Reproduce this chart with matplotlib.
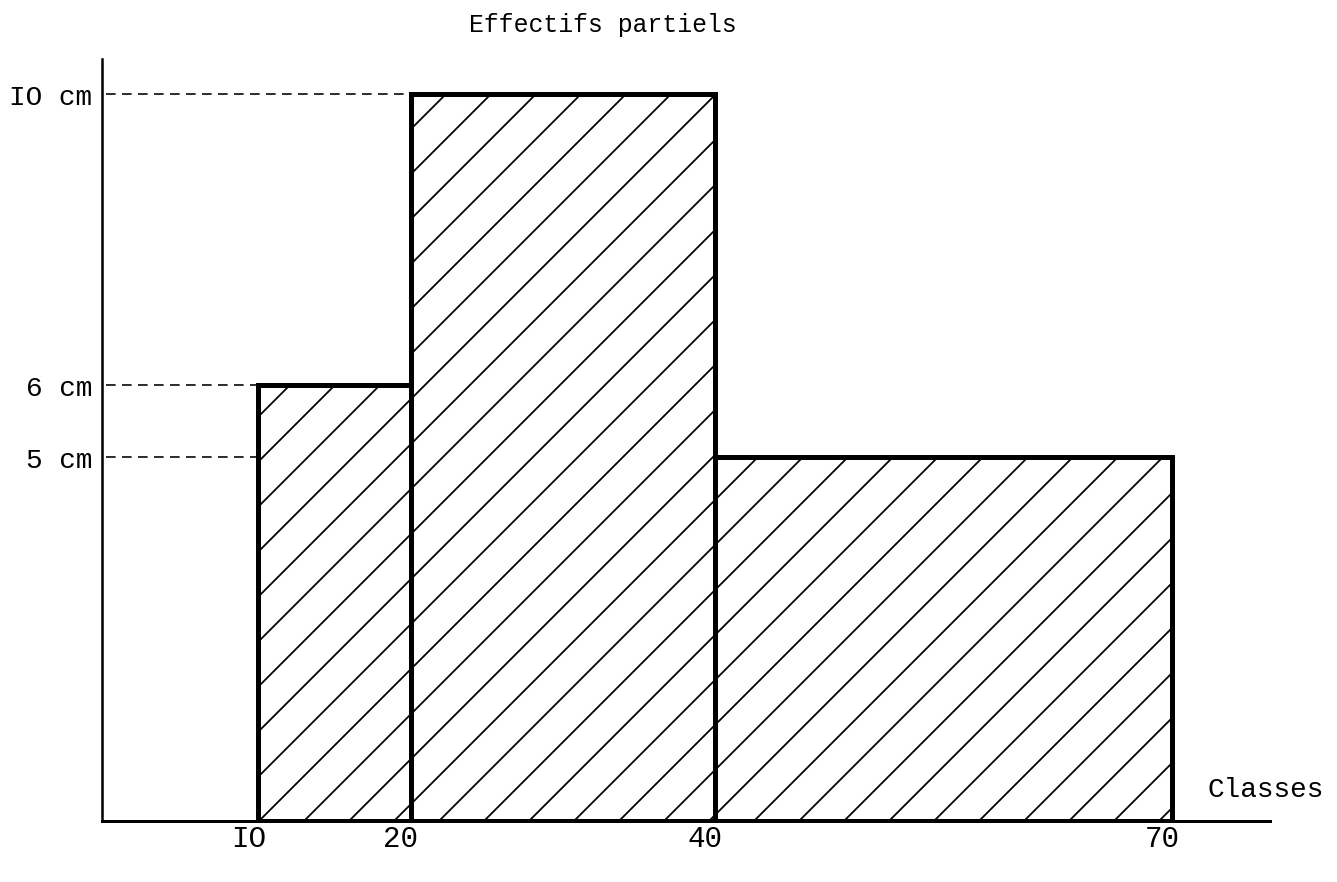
import matplotlib
matplotlib.use("Agg")
import matplotlib.pyplot as plt
import matplotlib.transforms as mtrans

# ---- data ----
class_left = [10, 20, 40]
class_width = [10, 20, 30]
heights = [6, 10, 5]
xtick_vals = [10, 20, 40, 70]
xtick_labels = ["IO", "20", "40", "70"]
ytick_vals = [10, 6, 5]
ytick_labels = ["IO cm", "6 cm", "5 cm"]
title = "Effectifs partiels"
xname = "Classes"

DPI = 270
W, H = 1337, 883
def pt(px):
    return px * 72.0 / DPI

plt.rcParams['font.family'] = ['Liberation Mono', 'DejaVu Sans Mono']
plt.rcParams['hatch.linewidth'] = pt(1.8)

fig = plt.figure(figsize=(W / DPI, H / DPI), dpi=DPI)
fig.patch.set_facecolor('white')
ax = fig.add_axes([102 / W, (H - 822) / H, (1270 - 102) / W, (822 - 60) / H])

ax.bar(class_left, heights, width=class_width, align='edge',
       facecolor='white', edgecolor='black', linewidth=pt(5), hatch='//', zorder=3)

# dashed guide lines from the y axis to each bar
for l, h in zip(class_left, heights):
    ax.hlines(h, 0, l, colors='black', linestyles=(0, (6, 4)), linewidth=pt(1.6), zorder=2)

ax.set_xlim(-0.28, 76.45)
ax.set_ylim(0, 10.48)

for s in ['top', 'right']:
    ax.spines[s].set_visible(False)
ax.spines['left'].set_linewidth(pt(2.5))
ax.spines['bottom'].set_linewidth(pt(3))

ax.set_xticks(xtick_vals)
ax.set_xticklabels(xtick_labels, fontsize=7.8)
ax.set_yticks(ytick_vals)
ax.set_yticklabels(ytick_labels, fontsize=7.4)
ax.tick_params(axis='both', length=0)
ax.tick_params(axis='x', pad=pt(3))
ax.tick_params(axis='y', pad=pt(10))
off = mtrans.ScaledTranslation(-10 / DPI, 0, fig.dpi_scale_trans)
for lab in ax.get_xticklabels():
    lab.set_transform(lab.get_transform() + off)

fig.text(603 / W, 1 - 25 / H, title, ha='center', va='center', fontsize=6.6)
fig.text(1266 / W, 1 - 790 / H, xname, ha='center', va='center', fontsize=7.4)

fig.savefig('out.png', dpi=DPI, facecolor='white')
